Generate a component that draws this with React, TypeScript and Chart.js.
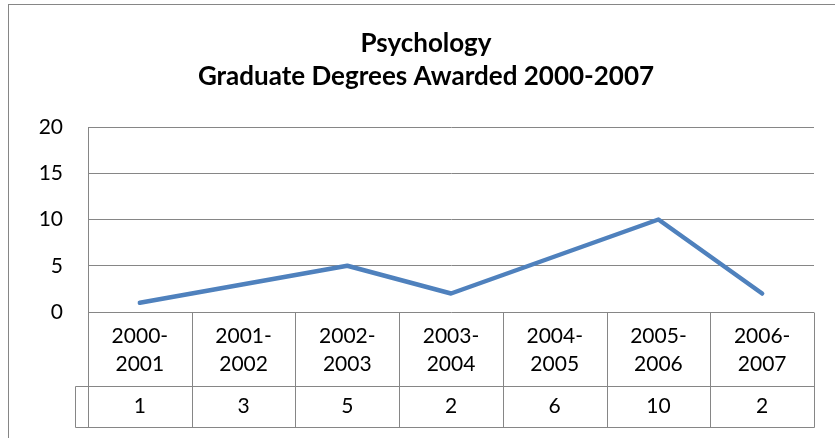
import React, { useEffect, useRef } from "react";
import { Chart, registerables } from "chart.js";

Chart.register(...registerables);

const categoriesTop = ["2000-", "2001-", "2002-", "2003-", "2004-", "2005-", "2006-"];
const categoriesBottom = ["2001", "2002", "2003", "2004", "2005", "2006", "2007"];
const degrees = [1, 3, 5, 2, 6, 10, 2];
const titleLines = ["Psychology", "Graduate Degrees Awarded 2000-2007"];
const yMin = 0;
const yMax = 20;
const yStep = 5;

const FONT = "Lato, 'Open Sans', sans-serif";
const GRID = "#868686";

const framePlugin = {
  id: "frameAndTitle",
  beforeDraw(chart: any) {
    const ctx = chart.ctx;
    ctx.save();
    ctx.strokeStyle = GRID;
    ctx.lineWidth = 1;
    ctx.strokeRect(8.5, 4.5, chart.width, chart.height);
    ctx.fillStyle = "#000";
    ctx.font = `bold 26px ${FONT}`;
    ctx.textAlign = "center";
    ctx.textBaseline = "alphabetic";
    ctx.fillText(titleLines[0], 426, 52);
    ctx.fillText(titleLines[1], 426, 85);
    ctx.restore();
  },
  afterDraw(chart: any) {
    const ctx = chart.ctx;
    const x = chart.scales.x;
    const area = chart.chartArea;
    const top = area.bottom;
    const mid = top + 74;
    const bottom = top + 115;
    const n = degrees.length;
    const bounds: number[] = [area.left];
    for (let i = 1; i < n; i++) {
      bounds.push((x.getPixelForValue(i - 1) + x.getPixelForValue(i)) / 2);
    }
    bounds.push(area.right);
    ctx.save();
    ctx.strokeStyle = GRID;
    ctx.lineWidth = 1;
    ctx.beginPath();
    const r = (v: number) => Math.round(v) + 0.5;
    for (const b of bounds) {
      ctx.moveTo(r(b), r(top));
      ctx.lineTo(r(b), r(bottom));
    }
    const legendLeft = area.left - 13;
    ctx.moveTo(r(legendLeft), r(mid));
    ctx.lineTo(r(area.right), r(mid));
    ctx.moveTo(r(legendLeft), r(bottom));
    ctx.lineTo(r(area.right), r(bottom));
    ctx.moveTo(r(legendLeft), r(mid));
    ctx.lineTo(r(legendLeft), r(bottom));
    ctx.stroke();

    ctx.fillStyle = "#000";
    ctx.font = `21px ${FONT}`;
    ctx.textAlign = "center";
    ctx.textBaseline = "alphabetic";
    for (let i = 0; i < n; i++) {
      const cx = x.getPixelForValue(i);
      ctx.fillText(categoriesTop[i], cx, top + 31);
      ctx.fillText(categoriesBottom[i], cx, top + 59);
      ctx.fillText(String(degrees[i]), cx, top + 101);
    }
    ctx.restore();
  },
};

export default function App() {
  const ref = useRef<HTMLCanvasElement>(null);
  useEffect(() => {
    if (!ref.current) return;
    const chart = new Chart(ref.current, {
      type: "line",
      data: {
        labels: categoriesBottom.map((b, i) => categoriesTop[i] + b),
        datasets: [
          {
            data: degrees,
            borderColor: "#4F81BD",
            borderWidth: 4.5,
            pointRadius: 0,
            tension: 0,
            borderCapStyle: "round",
            borderJoinStyle: "round",
          },
        ],
      },
      options: {
        responsive: false,
        animation: false,
        layout: { padding: { left: 0, right: 21, top: 127, bottom: 0 } },
        plugins: {
          legend: { display: false },
          tooltip: { enabled: false },
          title: { display: false },
        },
        scales: {
          x: {
            offset: true,
            grid: { display: false },
            border: { display: false },
            ticks: { display: false },
            afterFit: (s: any) => {
              s.height = 126;
            },
          },
          y: {
            min: yMin,
            max: yMax,
            ticks: {
              stepSize: yStep,
              color: "#000",
              font: { family: FONT, size: 21 },
              padding: 25,
            },
            grid: { color: GRID, lineWidth: 1, drawTicks: false },
            border: { display: true, color: GRID },
            afterFit: (s: any) => {
              s.width = 88;
            },
          },
        },
      },
      plugins: [framePlugin],
    } as any);
    return () => chart.destroy();
  }, []);
  return (
    <div style={{ position: "absolute", left: 0, top: 0, width: 835, height: 438, background: "#fff" }}>
      <canvas ref={ref} width={835} height={438} style={{ display: "block" }} />
    </div>
  );
}
